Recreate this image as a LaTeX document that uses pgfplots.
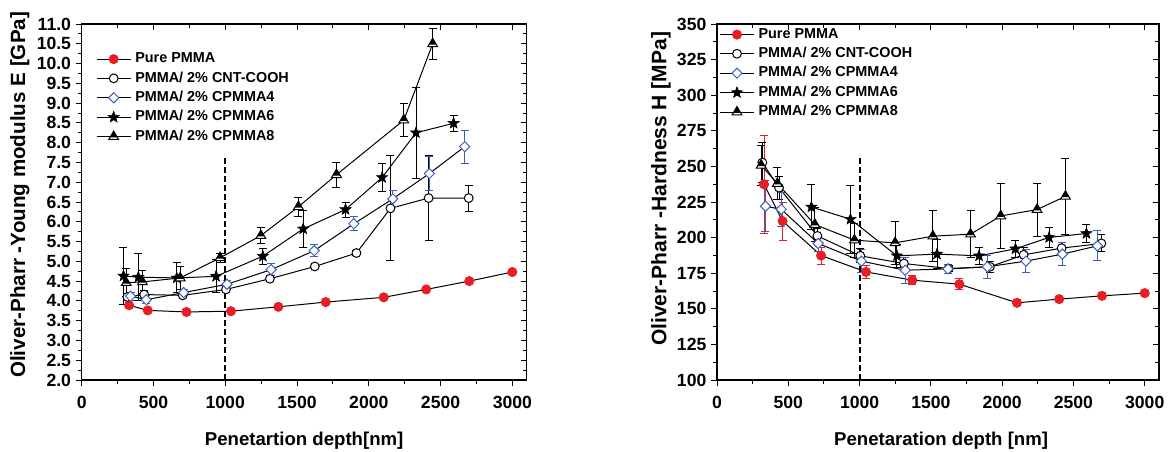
\documentclass[border=0pt]{standalone}
\usepackage{pgfplots}
\pgfplotsset{compat=1.18}
\usepackage{fontspec}
\setmainfont{Liberation Sans}
\definecolor{pred}{RGB}{232,30,38}
\definecolor{pblue}{RGB}{58,95,190}

\pgfdeclareplotmark{fstar}{%
  \pgfpathmoveto{\pgfpointpolar{90}{\pgfplotmarksize}}%
  \pgfpathlineto{\pgfpointpolar{126}{0.42\pgfplotmarksize}}%
  \pgfpathlineto{\pgfpointpolar{162}{\pgfplotmarksize}}%
  \pgfpathlineto{\pgfpointpolar{198}{0.42\pgfplotmarksize}}%
  \pgfpathlineto{\pgfpointpolar{234}{\pgfplotmarksize}}%
  \pgfpathlineto{\pgfpointpolar{270}{0.42\pgfplotmarksize}}%
  \pgfpathlineto{\pgfpointpolar{306}{\pgfplotmarksize}}%
  \pgfpathlineto{\pgfpointpolar{342}{0.42\pgfplotmarksize}}%
  \pgfpathlineto{\pgfpointpolar{18}{\pgfplotmarksize}}%
  \pgfpathlineto{\pgfpointpolar{54}{0.42\pgfplotmarksize}}%
  \pgfpathclose
  \pgfusepathqfillstroke}

\pgfdeclareplotmark{htri}{%
  \pgfpathmoveto{\pgfqpoint{0pt}{\pgfplotmarksize}}%
  \pgfpathlineto{\pgfpointpolar{210}{\pgfplotmarksize}}%
  \pgfpathlineto{\pgfpointpolar{330}{\pgfplotmarksize}}%
  \pgfpathclose
  \pgfusepathqfillstroke
  \pgfscope
  \pgfsetfillcolor{black}%
  \pgfpathmoveto{\pgfqpoint{0pt}{\pgfplotmarksize}}%
  \pgfpathlineto{\pgfpoint{-0.66\pgfplotmarksize}{-0.15\pgfplotmarksize}}%
  \pgfpathlineto{\pgfpoint{0.66\pgfplotmarksize}{-0.15\pgfplotmarksize}}%
  \pgfpathclose
  \pgfusepathqfill
  \endpgfscope}

\pgfplotsset{
  base/.style={
    scale only axis, height=178pt,
    xmin=0, xmax=3100,
    xtick={0,500,...,3000}, minor x tick num=1, minor y tick num=1,
    major tick length=3pt, minor tick length=1.8pt,
    axis line style={line width=0.8pt},
    every tick/.style={line width=0.5pt, black},
    /pgf/number format/assume math mode=true,
    /pgf/number format/1000 sep={},
    tick label style={font=\fontsize{8.8}{10}\selectfont\bfseries},
    xticklabel style={yshift=-1.5pt},
    yticklabel style={xshift=1.2pt},
  },
  mainax/.style={base, tick align=outside, tick pos=left,
    label style={font=\fontsize{9.3}{11}\selectfont\bfseries},
    legend style={draw=none, fill=none, anchor=north west,
      font=\fontsize{7.2}{8.2}\selectfont\bfseries, row sep=-1pt,
      /tikz/every even column/.append style={column sep=0pt}},
    legend cell align=left,
  },
  overax/.style={base, tick align=inside, tick pos=right,
    xticklabels={}, yticklabels={}},
  pure/.style={black, line width=0.5pt, mark=*, mark size=2.3pt,
    mark options={draw=pred, fill=pred, line width=0.4pt},
    error bars/.cd, y dir=both, y explicit,
    error bar style={pred, line width=0.5pt},
    error mark options={rotate=90, pred, mark size=2pt, line width=0.5pt}},
  cnt/.style={black, line width=0.5pt, mark=*, mark size=2.2pt,
    mark options={draw=black, fill=white, line width=0.5pt},
    error bars/.cd, y dir=both, y explicit,
    error bar style={black, line width=0.5pt},
    error mark options={rotate=90, black, mark size=2pt, line width=0.5pt}},
  cpa/.style={black, line width=0.5pt, mark=square*, mark size=1.8pt,
    mark options={draw=pblue, fill=white, rotate=45, line width=0.5pt},
    error bars/.cd, y dir=both, y explicit,
    error bar style={pblue, line width=0.5pt},
    error mark options={rotate=90, pblue, mark size=2pt, line width=0.5pt}},
  cpb/.style={black, line width=0.5pt, mark=fstar, mark size=2.9pt,
    mark options={draw=black, fill=black, line width=0.3pt},
    error bars/.cd, y dir=both, y explicit,
    error bar style={black, line width=0.5pt},
    error mark options={rotate=90, black, mark size=2pt, line width=0.5pt}},
  cpc/.style={black, line width=0.5pt, mark=htri, mark size=2.8pt,
    mark options={draw=black, fill=white, line width=0.5pt},
    error bars/.cd, y dir=both, y explicit,
    error bar style={black, line width=0.5pt},
    error mark options={rotate=90, black, mark size=2pt, line width=0.5pt}},
}

\begin{document}
\begin{tikzpicture}
\path[use as bounding box] (-40.85pt,-35.5pt) rectangle (545.65pt,190pt);

% ---------------- Left: Young modulus ----------------
\begin{axis}[mainax, at={(0pt,0pt)}, anchor=south west, width=222.5pt,
  ymin=2, ymax=11, ytick={2,2.5,...,11},
  yticklabel style={/pgf/number format/.cd, fixed, fixed zerofill, precision=1},
  xlabel={Penetartion depth[nm]},
  ylabel={Oliver-Pharr -Young modulus E [GPa]},
  xlabel style={at={(axis description cs:0.5,-0.183)}, anchor=base},
  ylabel style={at={(axis description cs:-0.139,0.52)}, anchor=center,
    font=\fontsize{10.3}{12}\selectfont\bfseries},
  legend style={at={(axis description cs:0.018,0.943)}},
]
\addplot[pure] table[x=x, y=y, y error=e] {
x y e
330 3.89 0.05
460 3.76 0.05
730 3.72 0.05
1040 3.74 0.05
1370 3.85 0.04
1700 3.97 0.04
2104 4.09 0.04
2400 4.29 0.04
2700 4.50 0.04
3000 4.73 0.04
};
\addlegendentry{Pure PMMA}
\addplot[cnt] table[x=x, y=y, y error=e] {
x y e
318 4.10 0.06
435 4.16 0.10
704 4.14 0.06
1005 4.29 0.06
1311 4.56 0.08
1624 4.87 0.06
1914 5.21 0.06
2151 6.34 1.33
2417 6.60 1.07
2696 6.60 0.33
};
\addlegendentry{PMMA/ 2\% CNT-COOH}
\addplot[cpa] table[x=x, y=y, y error=e] {
x y e
340 4.12 0.10
450 4.03 0.10
710 4.21 0.08
1012 4.42 0.10
1320 4.79 0.15
1620 5.27 0.16
1896 5.95 0.18
2167 6.58 0.20
2422 7.22 0.42
2668 7.90 0.42
};
\addlegendentry{PMMA/ 2\% CPMMA4}
\addplot[cpb] table[x=x, y=y, y error=e] {
x y e
291 4.63 0.71
395 4.60 0.59
662 4.58 0.38
936 4.62 0.42
1262 5.13 0.20
1543 5.82 0.47
1838 6.31 0.19
2093 7.12 0.36
2329 8.25 1.15
2591 8.49 0.20
};
\addlegendentry{PMMA/ 2\% CPMMA6}
\addplot[cpc] table[x=x, y=y, y error=e] {
x y e
310 4.46 0.35
423 4.48 0.30
686 4.58 0.30
964 5.09 0.12
1248 5.65 0.20
1510 6.38 0.24
1775 7.19 0.32
2244 8.57 0.42
2445 10.50 0.39
};
\addlegendentry{PMMA/ 2\% CPMMA8}
\addplot[black, line width=1pt, dash pattern=on 3pt off 1.5pt, forget plot]
  coordinates {(1000,2) (1000,7.62)};
\end{axis}
\begin{axis}[overax, at={(0pt,0pt)}, anchor=south west, width=222.5pt,
  ymin=2, ymax=11, ytick={2,2.5,...,11}]
\end{axis}

% ---------------- Right: Hardness ----------------
\begin{axis}[mainax, at={(317.65pt,0pt)}, anchor=south west, width=221pt,
  ymin=100, ymax=350, ytick={100,125,...,350},
  xlabel={Penetaration depth [nm]},
  ylabel={Oliver-Pharr -Hardness H [MPa]},
  xlabel style={at={(axis description cs:0.507,-0.183)}, anchor=base},
  ylabel style={at={(axis description cs:-0.127,0.537)}, anchor=center,
    font=\fontsize{10.5}{12}\selectfont\bfseries},
  legend style={at={(axis description cs:-0.009,1.012)}},
]
\addplot[pure] table[x=x, y=y, y error=e] {
x y e
330 237.4 34.5
460 211.6 13.4
730 187.4 6
1045 175.9 4.5
1370 170.1 3
1700 167.3 4
2104 154.2 2
2400 156.8 2
2700 159.1 2
3000 161.0 2
};
\addlegendentry{Pure PMMA}
\addplot[cnt] table[x=x, y=y, y error=e] {
x y e
318 252.7 14
435 235.1 8
704 201.2 5
1005 187.2 5
1311 181.8 4
1624 178.3 2
1914 179.5 4
2151 187.9 5
2417 192.6 4
2696 195.9 6
};
\addlegendentry{PMMA/ 2\% CNT-COOH}
\addplot[cpa] table[x=x, y=y, y error=e] {
x y e
340 222.0 18
450 219.9 12
710 195.9 6
1012 183.5 8
1320 177.1 9
1620 178.0 3
1896 179.5 8
2167 183.5 8
2422 188.4 8
2668 194.2 10.5
};
\addlegendentry{PMMA/ 2\% CPMMA4}
\addplot[cpb] table[x=x, y=y, y error=e] {
x y e
662 221.5 16
936 212.9 24
1262 187.2 8
1543 188.4 10
1838 187.2 6
2093 192.1 6
2329 200.1 7
2591 202.9 6
};
\addlegendentry{PMMA/ 2\% CPMMA6}
\addplot[cpc] table[x=x, y=y, y error=e] {
x y e
310 250.8 14
423 238.0 11
686 209.2 12
964 198.2 12
1249 196.3 15
1514 201.0 18
1778 202.4 16.5
1990 215.2 23
2245 219.7 18.6
2444 229.0 26.6
};
\addlegendentry{PMMA/ 2\% CPMMA8}
\addplot[black, line width=1pt, dash pattern=on 3pt off 1.5pt, forget plot]
  coordinates {(1000,100) (1000,257)};
\end{axis}
\begin{axis}[overax, at={(317.65pt,0pt)}, anchor=south west, width=221pt,
  ymin=100, ymax=350, ytick={100,125,...,350}]
\end{axis}
\end{tikzpicture}
\end{document}
